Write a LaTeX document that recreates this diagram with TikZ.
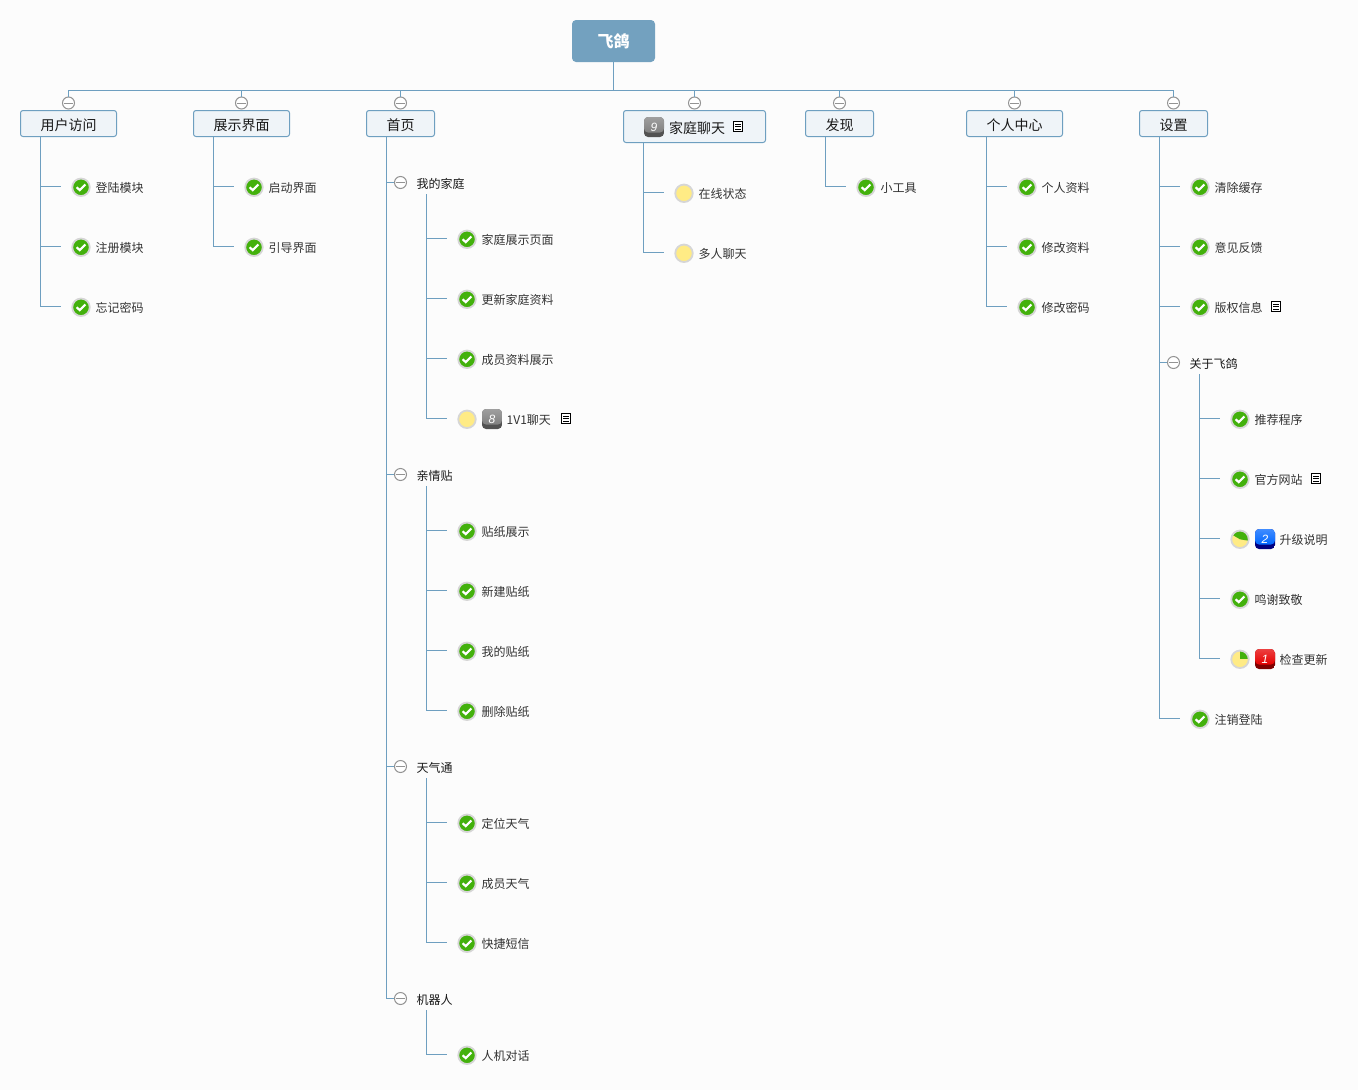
\documentclass[tikz,border=0pt]{standalone}
\usepackage{fontspec}
\setmainfont{Noto Sans CJK SC}
\newfontfamily\badgefont{Liberation Sans}
\definecolor{linec}{HTML}{6E9FC0}
\definecolor{boxf}{HTML}{EFF4F8}
\definecolor{rootf}{HTML}{73A1BF}
\definecolor{bg}{HTML}{FCFCFC}
\definecolor{halo}{HTML}{D6D6D6}
\definecolor{okg}{HTML}{43B10C}
\definecolor{yel}{HTML}{FFEB85}
\definecolor{txt}{HTML}{333333}
\tikzset{
  x=1pt,y=-1pt,
  conn/.style={draw=linec,line width=1pt},
  rootbox/.style={draw=none,fill=rootf,rounded corners=4pt,minimum width=83pt,minimum height=42pt,inner sep=0pt,text=white,font=\fontsize{16}{16}\selectfont\bfseries},
  topic/.style={draw=linec,line width=1pt,fill=boxf,rounded corners=2.5pt,minimum height=26pt,inner sep=0pt,text=black!90,font=\fontsize{14}{14}\selectfont},
  wide/.style={minimum width=96pt},
  narrow/.style={minimum width=68pt},
  collapse/.style={circle,draw=gray!85,fill=white,line width=1pt,minimum size=12pt,inner sep=0pt,
    path picture={\draw[gray!85,line width=1pt] ([xshift=-4.5pt]path picture bounding box.center)--([xshift=4.5pt]path picture bounding box.center);}},
  baseicon/.style={circle,draw=halo,line width=1.8pt,minimum size=17.5pt,inner sep=0pt},
  chk/.style={baseicon,fill=okg,path picture={\draw[white,line width=2.2pt]
    ([shift={(-4.4pt,0pt)}]path picture bounding box.center)--([shift={(-1.2pt,-2.8pt)}]path picture bounding box.center)--([shift={(4.4pt,2.8pt)}]path picture bounding box.center);}},
  zero/.style={baseicon,fill=yel},
  pieq/.style={baseicon,fill=yel,path picture={\fill[okg] (path picture bounding box.center)--++(0,-12)--++(12,0)--++(0,12)--cycle;}},
  piet/.style={baseicon,fill=yel,path picture={\fill[okg] (path picture bounding box.center)--++(-12,-7)--++(0,-8)--++(24,0)--++(0,17)--cycle;}},
  leaftext/.style={anchor=base west,inner sep=0pt,text=txt,font=\fontsize{12}{12}\selectfont},
  subtext/.style={leaftext,text=black!90},
  note/.style={draw=black,fill=white,line width=1pt,minimum width=9.5pt,minimum height=10pt,inner sep=0pt,
    path picture={\foreach \d in {-2.5,0,2.5}{\draw[black,line width=.9pt] ([shift={(-3pt,\d pt)}]path picture bounding box.center)--([shift={(3pt,\d pt)}]path picture bounding box.center);}}},
  badge/.style 2 args={rounded corners=4pt,minimum size=20pt,inner sep=0pt,text=white,font=\badgefont\itshape\fontsize{12}{12}\selectfont,
    path picture={\fill[#2] (path picture bounding box.south west) rectangle (path picture bounding box.north east);
      \shade[top color=#1!75!white,bottom color=#1] (path picture bounding box.north west) rectangle ([yshift=4.5pt]path picture bounding box.south east);}},
}
% id, trunk coordinate, stub end x, y, icon style, text, text offset from stub end
\newcommand{\Leaf}[7][34.5]{%
  \coordinate (#2-s) at (#4,{#5-.5});
  \node[#6] (#2-i) at ({#4+20},{#5+.3}) {};
  \node[leaftext] (#2) at ({#4+#1},{#5+5}) {#7};
  \draw[conn] (#3) |- (#2-s);
}
\newcommand{\Sub}[5]{%
  \node[collapse] (#1-c) at (#3,{#4-.5}) {};
  \node[subtext] (#1) at ({#3+16},{#4+5}) {#5};
  \coordinate (#1-t) at ({#3+26},{#4+11});
  \draw[conn] (#2) |- (#1-c.west);
}
\newcommand{\Topic}[6]{% id, style, cx, top y, h, text
  \node[topic,#2,minimum height=#5 pt] (#1) at (#3,{#4+#5/2}) {\raisebox{-6.5pt}[0pt][0pt]{#6}};
  \node[collapse] (#1-c) at (#3,103) {};
  \draw[conn] (bar) -| (#1-c.north);
}
\begin{document}
\begin{tikzpicture}
\useasboundingbox (0,0) rectangle (1358,1090);
\fill[bg] (0,0) rectangle (1358,1090);
\node[rootbox] (root) at (613.5,41) {飞鸽};
\coordinate (bar) at (613.5,90.5);
\draw[conn] (root.south) -- (bar);

\Topic{user}{wide}{68.5}{110.5}{26}{用户访问}
\coordinate (user-t) at (40.5,137);
\Leaf{a1}{user-t}{61}{187}{chk}{登陆模块}
\Leaf{a2}{user-t}{61}{247}{chk}{注册模块}
\Leaf{a3}{user-t}{61}{307}{chk}{忘记密码}

\Topic{show}{wide}{241.5}{110.5}{26}{展示界面}
\coordinate (show-t) at (213.5,137);
\Leaf{b1}{show-t}{234}{187}{chk}{启动界面}
\Leaf{b2}{show-t}{234}{247}{chk}{引导界面}

\Topic{home}{narrow}{400.5}{110.5}{26}{首页}
\coordinate (home-t) at (386.5,137);
\Sub{h1}{home-t}{400.5}{183}{我的家庭}
\Leaf{h11}{h1-t}{447}{239}{chk}{家庭展示页面}
\Leaf{h12}{h1-t}{447}{299}{chk}{更新家庭资料}
\Leaf{h13}{h1-t}{447}{359}{chk}{成员资料展示}
\Leaf[59.5]{h14}{h1-t}{447}{419}{zero}{1V1聊天}
\node[badge={gray}{black!68}] (h14-b) at (492,419) {8};
\node[note] (h14-n) at (566,418.5) {};
\Sub{h2}{home-t}{400.5}{475}{亲情贴}
\Leaf{h21}{h2-t}{447}{531}{chk}{贴纸展示}
\Leaf{h22}{h2-t}{447}{591}{chk}{新建贴纸}
\Leaf{h23}{h2-t}{447}{651}{chk}{我的贴纸}
\Leaf{h24}{h2-t}{447}{711}{chk}{删除贴纸}
\Sub{h3}{home-t}{400.5}{767}{天气通}
\Leaf{h31}{h3-t}{447}{823}{chk}{定位天气}
\Leaf{h32}{h3-t}{447}{883}{chk}{成员天气}
\Leaf{h33}{h3-t}{447}{943}{chk}{快捷短信}
\Sub{h4}{home-t}{400.5}{999}{机器人}
\Leaf{h41}{h4-t}{447}{1055}{chk}{人机对话}

\Topic{chat}{minimum width=142pt}{694.5}{110.5}{32}{\hspace{5pt}家庭聊天}
\coordinate (chat-t) at (643.5,143);
\node[badge={gray}{black!68}] (chat-b) at (654,127) {9};
\node[note] (chat-n) at (738,126.5) {};
\Leaf{c1}{chat-t}{664}{193}{zero}{在线状态}
\Leaf{c2}{chat-t}{664}{253}{zero}{多人聊天}

\Topic{find}{narrow}{839.5}{110.5}{26}{发现}
\coordinate (find-t) at (825.5,137);
\Leaf{d1}{find-t}{846}{187}{chk}{小工具}

\Topic{me}{wide}{1014.5}{110.5}{26}{个人中心}
\coordinate (me-t) at (986.5,137);
\Leaf{e1}{me-t}{1007}{187}{chk}{个人资料}
\Leaf{e2}{me-t}{1007}{247}{chk}{修改资料}
\Leaf{e3}{me-t}{1007}{307}{chk}{修改密码}

\Topic{set}{narrow}{1173.5}{110.5}{26}{设置}
\coordinate (set-t) at (1159.5,137);
\Leaf{f1}{set-t}{1180}{187}{chk}{清除缓存}
\Leaf{f2}{set-t}{1180}{247}{chk}{意见反馈}
\Leaf{f3}{set-t}{1180}{307}{chk}{版权信息}
\node[note] (f3-n) at (1276,306.5) {};
\Sub{f4}{set-t}{1173.5}{363}{关于飞鸽}
\Leaf{f41}{f4-t}{1220}{419}{chk}{推荐程序}
\Leaf{f42}{f4-t}{1220}{479}{chk}{官方网站}
\node[note] (f42-n) at (1316,478.5) {};
\Leaf[59.5]{f43}{f4-t}{1220}{539}{piet}{升级说明}
\node[badge={blue!60!cyan}{blue!50!black}] (f43-b) at (1265,539) {2};
\Leaf{f44}{f4-t}{1220}{599}{chk}{鸣谢致敬}
\Leaf[59.5]{f45}{f4-t}{1220}{659}{pieq}{检查更新}
\node[badge={red!90!black}{red!50!black}] (f45-b) at (1265,659) {1};
\Leaf{f5}{set-t}{1180}{719}{chk}{注销登陆}
\end{tikzpicture}
\end{document}
